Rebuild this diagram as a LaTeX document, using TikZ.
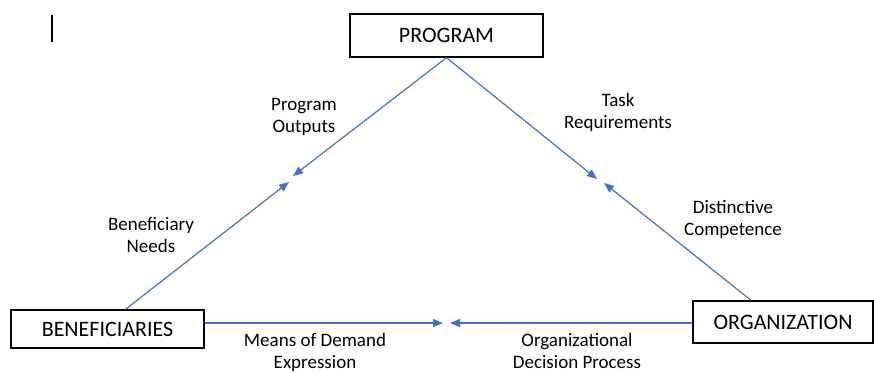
\documentclass[tikz,border=0pt]{standalone}
\usepackage{fontspec}
\setmainfont{Carlito}
\usetikzlibrary{arrows.meta}
\definecolor{linka}{RGB}{68,114,196}
\tikzset{
  blok/.style={draw=black,line width=0.7pt,minimum height=19pt,inner sep=2pt,font=\fontsize{11}{13}\selectfont},
  sip/.style={-{Triangle[length=5pt,width=4pt]},draw=linka,line width=0.6pt},
  popis/.style={align=center,inner sep=0pt,font=\fontsize{9.5}{11}\selectfont},
}
\begin{document}
\begin{tikzpicture}[x=0.5pt,y=-0.5pt]
  \useasboundingbox (0,0) rectangle (874,372);
  % cursor mark in the corner
  \draw[line width=0.6pt] (52,15) -- (52,42);
  % the three corners
  \node[blok,minimum width=96.5pt,minimum height=21.5pt] (prog) at (446.5,35.5) {PROGRAM};
  \node[blok,minimum width=96.5pt] (ben) at (107.5,329) {BENEFICIARIES};
  \node[blok,minimum width=90pt,minimum height=21pt] (org) at (783,322) {ORGANIZATION};
  % meeting points of the arrows
  \coordinate (pL) at (293,176); \coordinate (bL) at (289,182);
  \coordinate (pR) at (597,179); \coordinate (oR) at (604,183);
  \coordinate (bB) at (443,323); \coordinate (oB) at (450,323);
  \draw[sip] (prog.south) -- (pL);
  \draw[sip] ([xshift=9pt]ben.north) -- (bL);
  \draw[sip] (prog.south) -- (pR);
  \draw[sip] ([xshift=-16pt]org.north) -- (oR);
  \draw[sip] (ben.east |- bB) -- (bB);
  \draw[sip] (org.west |- oB) -- (oB);
  % labels
  \node[popis] (tOut) at (304,117) {Program\\Outputs};
  \node[popis] (tTask) at (618,112) {Task\\Requirements};
  \node[popis] (tNeed) at (151,235) {Beneficiary\\Needs};
  \node[popis] (tComp) at (733,219) {Distinctive\\Competence};
  \node[popis] (tMean) at (315,352) {Means of Demand\\Expression};
  \node[popis] (tDec) at (577,351) {Organizational\\Decision Process};
\end{tikzpicture}
\end{document}
